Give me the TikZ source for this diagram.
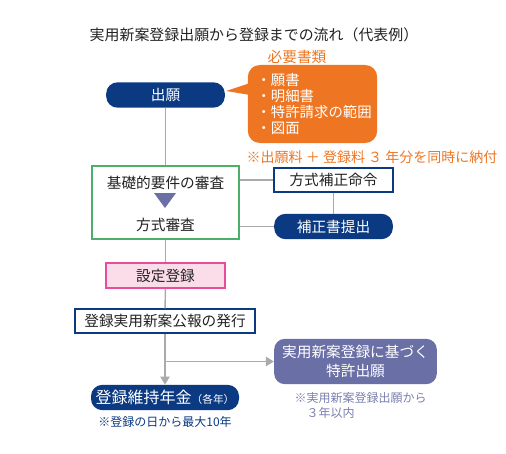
\documentclass[tikz,border=0pt]{standalone}
\usepackage{fontspec}
\setmainfont{Noto Sans CJK JP}
\usetikzlibrary{arrows.meta,positioning,calc}
\definecolor{navy}{HTML}{0B3A82}
\definecolor{bubbleorange}{HTML}{EE7623}
\definecolor{checkgreen}{HTML}{4DB06A}
\definecolor{regpink}{HTML}{FBDDEA}
\definecolor{regmagenta}{HTML}{E94C9B}
\definecolor{slate}{HTML}{6A6FA6}
\definecolor{flowgray}{HTML}{AAAAAA}
\definecolor{notegray}{HTML}{7A7FAE}
\definecolor{textdark}{HTML}{222222}
\tikzset{
  pill/.style={fill=navy, text=white, rounded corners=8.5pt, inner sep=0pt,
    minimum height=19pt, font=\fontsize{11}{13}\selectfont},
  framebox/.style={draw=navy, line width=1.1pt, fill=white, text=textdark, inner sep=0pt,
    minimum height=18pt, font=\fontsize{11}{13}\selectfont},
  flow/.style={draw=flowgray, line width=1.1pt},
  flowarrow/.style={flow, -{Triangle[length=6pt,width=7pt]}}
}
\begin{document}
\begin{tikzpicture}[x=0.75pt, y=-0.75pt]
    \useasboundingbox (0,0) rectangle (506,453);

    % Title
    \node[text=textdark, font=\fontsize{11.2}{13}\selectfont] (title) at (254,35)
      {実用新案登録出願から登録までの流れ（代表例）};

    % Application and required documents
    \node[pill, minimum width=89pt] (shutsugan) at (165.5,95) {出願};
    \node[fill=bubbleorange, text=white, rounded corners=9pt, inner sep=0pt,
      minimum width=97pt, minimum height=58.5pt, text width=84pt, align=left,
      font=\fontsize{10.8}{11.8}\selectfont] (shorui) at (312.5,104)
      {・願書\\・明細書\\・特許請求の範囲\\・図面};
    \fill[bubbleorange] (226,91) -- (250,83) -- (250,95) -- cycle;
    \node[text=bubbleorange, font=\fontsize{11}{13}\selectfont] (shoruilabel) at (297,57)
      {必要書類};
    \node[text=bubbleorange, font=\fontsize{10.5}{13}\selectfont] (ryokin) at (372,157)
      {※出願料 ＋ 登録料 ３ 年分を同時に納付};

    % Examination
    \node[draw=checkgreen, line width=1.1pt, fill=white, minimum width=110pt,
      minimum height=55pt, inner sep=0pt] (shinsa) at (165.5,202.5) {};
    \node[text=textdark, font=\fontsize{11}{13}\selectfont] (kiso) at (165.5,183) {基礎的要件の審査};
    \fill[slate] (154,193) -- (176,193) -- (165,208) -- cycle;
    \node[text=textdark, font=\fontsize{11}{13}\selectfont] (hoshiki) at (165.5,225) {方式審査};

    % Correction
    \node[framebox, minimum width=89pt] (meirei) at (333.5,180) {方式補正命令};
    \node[pill, minimum width=89pt] (hosei) at (333.5,226.5) {補正書提出};

    % Registration
    \node[draw=regmagenta, line width=1.1pt, fill=regpink, text=textdark, inner sep=0pt,
      minimum width=89pt, minimum height=19pt, font=\fontsize{11}{13}\selectfont]
      (settei) at (165.5,275.5) {設定登録};
    \node[framebox, minimum width=135pt] (koho) at (165,321) {登録実用新案公報の発行};

    % Maintenance and patent application
    \node[pill, minimum width=111pt, font=\fontsize{12}{14}\selectfont] (iji) at (165,397.5)
      {登録維持年金{\fontsize{8}{10}\selectfont（各年）}};
    \node[text=navy, font=\fontsize{9}{11}\selectfont, below=1pt of iji] (ijinote)
      {※登録の日から最大10年};
    \node[fill=slate, text=white, rounded corners=8pt, inner sep=0pt, align=center,
      minimum width=122pt, minimum height=34pt, font=\fontsize{11}{14.5}\selectfont]
      (tokkyo) at (355.5,361.5) {実用新案登録に基づく\\特許出願};
    \node[text=notegray, font=\fontsize{9}{11}\selectfont, align=left, anchor=north west]
      (tokkyonote) at (290,388) {※実用新案登録出願から\\　３年以内};

    % Connectors
    \draw[flow] (shutsugan) -- (shinsa);
    \draw[flow] (shinsa) -- (settei);
    \draw[flow] (settei) -- (koho);
    \draw[flowarrow] (koho) -- (iji);
    \coordinate (branch) at (koho.south |- tokkyo.west);
    \draw[flowarrow] (branch) -- (tokkyo.west);
    \draw[flow] (shinsa.east |- meirei) -- (meirei);
    \draw[flow] (meirei) -- (hosei);
    \draw[flow] (hosei) -- (shinsa.east |- hosei);
\end{tikzpicture}
\end{document}
